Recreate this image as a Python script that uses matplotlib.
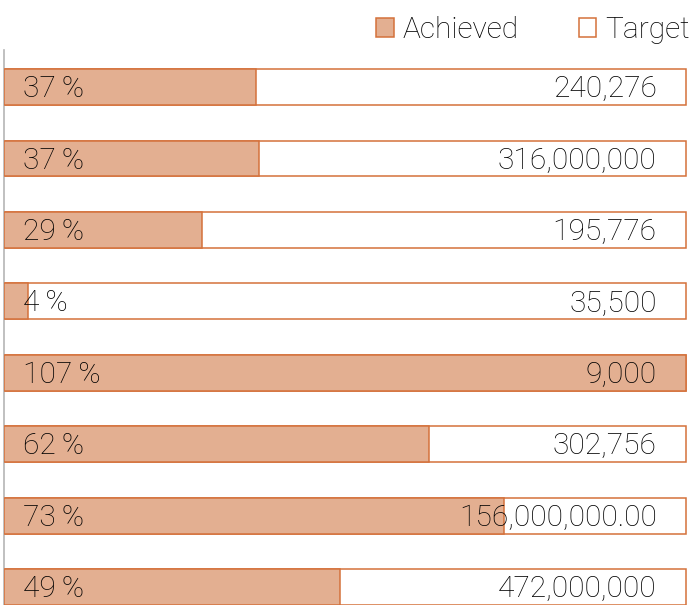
import matplotlib
matplotlib.use("Agg")
import matplotlib.pyplot as plt
from matplotlib.patches import Patch

# achievement per row (percent of target) and the target figure shown at the right
achieved_pct = [36.9, 37.4, 29.0, 3.5, 107.0, 62.3, 73.3, 49.3]
target_labels = ["240,276", "316,000,000", "195,776", "35,500", "9,000",
                 "302,756", "156,000,000.00", "472,000,000"]

FILL = "#E3AF91"
EDGE = "#D4713B"
INK = "#000000"

plt.rcParams["font.family"] = ["Roboto", "DejaVu Sans"]
plt.rcParams["font.weight"] = "light"
FS = 21.5

fig = plt.figure(figsize=(6.92, 6.05), dpi=100)
ax = fig.add_axes([4 / 692, 0, 684 / 692, (605 - 50) / 605])

rows = list(range(len(achieved_pct)))
ax.barh(rows, [1.0] * len(rows), height=0.5, color="white",
        edgecolor=EDGE, linewidth=1.1, zorder=2)
ax.barh(rows, [min(p, 100) / 100 for p in achieved_pct], height=0.5,
        color=FILL, edgecolor=EDGE, linewidth=1.1, zorder=3)

for i, (p, t) in enumerate(zip(achieved_pct, target_labels)):
    ax.text(0.028, i + 0.03, f"{round(p)}\u2009%", ha="left", va="center",
            fontsize=FS, color=INK, zorder=4)
    ax.text(0.957, i + 0.03, t, ha="right", va="center", fontsize=FS,
            color=INK, zorder=4)

ax.set_xlim(0, 684 / 682)
ax.set_ylim(7.25, -0.518)
for side in ["top", "right", "bottom"]:
    ax.spines[side].set_visible(False)
ax.spines["left"].set_color("#b5b5b5")
ax.spines["left"].set_linewidth(1.2)
ax.set_xticks([])
ax.set_yticks([])

handles = [Patch(facecolor=FILL, edgecolor=EDGE, linewidth=1.1, label="Achieved"),
           Patch(facecolor="white", edgecolor=EDGE, linewidth=1.1, label="Target")]
leg = fig.legend(handles=handles, loc="center right",
                 bbox_to_anchor=(690 / 692, 1 - 30 / 605), ncol=2, frameon=False,
                 fontsize=FS, handlelength=0.6, handleheight=0.6,
                 handletextpad=0.3, columnspacing=2.0, borderpad=0, borderaxespad=0)
for txt in leg.get_texts():
    txt.set_color(INK)

fig.savefig("out.png", dpi=100)
